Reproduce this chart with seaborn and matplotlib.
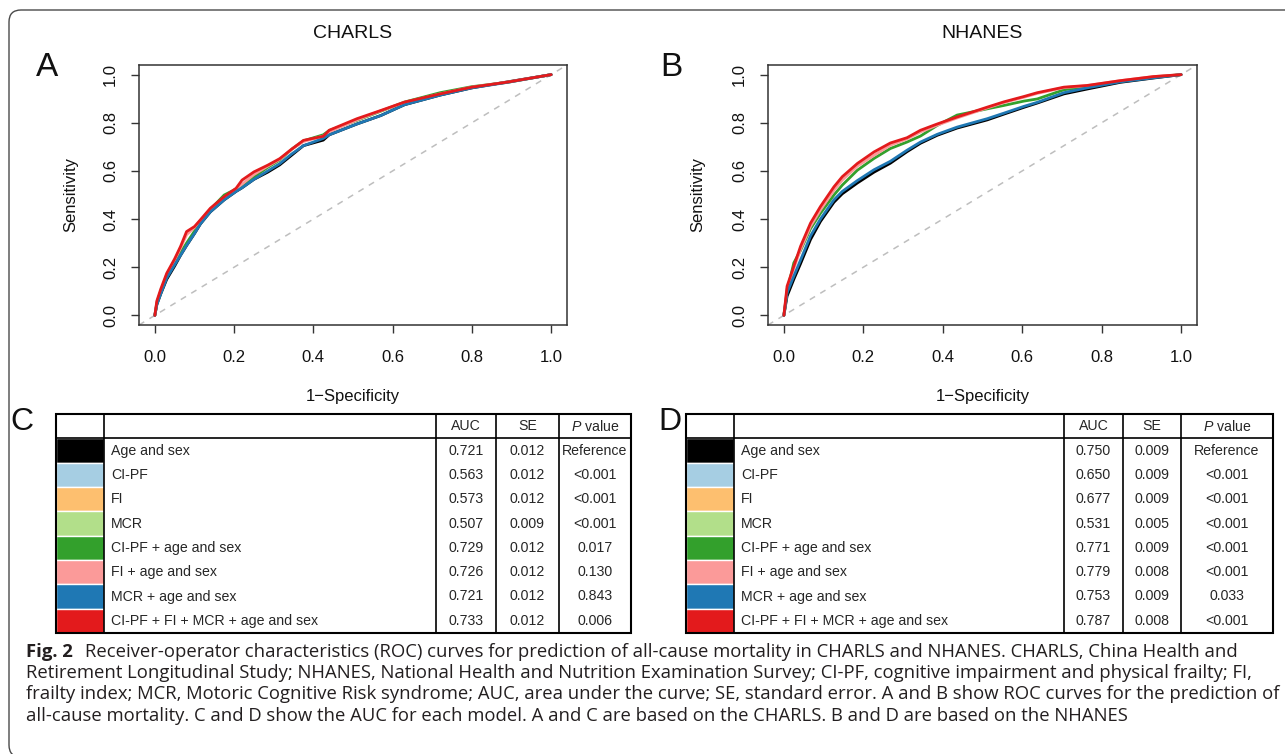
import numpy as np
import pandas as pd
import seaborn as sns
import matplotlib.pyplot as plt
from matplotlib.patches import FancyBboxPatch, Rectangle

# ---- table data ----
models = ['Age and sex', 'CI-PF', 'FI', 'MCR', 'CI-PF + age and sex',
          'FI + age and sex', 'MCR + age and sex', 'CI-PF + FI + MCR + age and sex']
colors = ['#000000', '#A6CEE3', '#FDBF6F', '#B2DF8A', '#33A02C',
          '#FB9A99', '#1F78B4', '#E31A1C']

charls_auc = ['0.721', '0.563', '0.573', '0.507', '0.729', '0.726', '0.721', '0.733']
charls_se = ['0.012', '0.012', '0.012', '0.009', '0.012', '0.012', '0.012', '0.012']
charls_p = ['Reference', '<0.001', '<0.001', '<0.001', '0.017', '0.130', '0.843', '0.006']

nhanes_auc = ['0.750', '0.650', '0.677', '0.531', '0.771', '0.779', '0.753', '0.787']
nhanes_se = ['0.009', '0.009', '0.009', '0.005', '0.009', '0.008', '0.009', '0.008']
nhanes_p = ['Reference', '<0.001', '<0.001', '<0.001', '<0.001', '<0.001', '0.033', '<0.001']

# ---- ROC curves (only these five are drawn) ----
curve_models = ['Age and sex', 'CI-PF + age and sex', 'FI + age and sex',
                'MCR + age and sex', 'CI-PF + FI + MCR + age and sex']

charls_fpr = [0, 0.005, 0.015, 0.03, 0.05, 0.065, 0.08, 0.10, 0.115, 0.14, 0.175, 0.205,
              0.22, 0.25, 0.285, 0.315, 0.345, 0.375, 0.425, 0.44, 0.51, 0.57, 0.63,
              0.72, 0.80, 0.89, 1.0]
charls_age = [0, 0.045, 0.09, 0.15, 0.205, 0.25, 0.29, 0.34, 0.38, 0.43, 0.48, 0.515,
              0.53, 0.565, 0.595, 0.625, 0.665, 0.705, 0.728, 0.75, 0.795, 0.83, 0.875,
              0.915, 0.945, 0.97, 1.0]
charls_cipf_age = [0, 0.05, 0.10, 0.165, 0.22, 0.26, 0.30, 0.35, 0.39, 0.44, 0.50, 0.525,
                   0.535, 0.575, 0.615, 0.645, 0.69, 0.725, 0.75, 0.768, 0.81, 0.848, 0.886,
                   0.925, 0.95, 0.968, 1.0]
charls_fi_age = [0, 0.055, 0.10, 0.17, 0.23, 0.28, 0.335, 0.365, 0.395, 0.44, 0.49, 0.525,
                 0.545, 0.585, 0.62, 0.648, 0.69, 0.722, 0.745, 0.762, 0.812, 0.85, 0.884,
                 0.92, 0.948, 0.969, 1.0]
charls_mcr_age = [0, 0.045, 0.09, 0.155, 0.21, 0.25, 0.29, 0.34, 0.38, 0.43, 0.48, 0.515,
                  0.53, 0.565, 0.60, 0.63, 0.67, 0.705, 0.735, 0.75, 0.795, 0.83, 0.875,
                  0.915, 0.945, 0.968, 1.0]
charls_all = [0, 0.06, 0.11, 0.175, 0.235, 0.287, 0.348, 0.369, 0.397, 0.445, 0.493, 0.528,
              0.562, 0.596, 0.624, 0.651, 0.69, 0.727, 0.744, 0.769, 0.817, 0.851, 0.886,
              0.92, 0.948, 0.969, 1.0]

nhanes_fpr = [0, 0.008, 0.025, 0.042, 0.067, 0.092, 0.126, 0.147, 0.185, 0.227, 0.268,
              0.31, 0.344, 0.386, 0.436, 0.512, 0.554, 0.604, 0.638, 0.705, 0.763, 0.847,
              0.931, 1.0]
nhanes_age = [0, 0.08, 0.15, 0.215, 0.315, 0.39, 0.47, 0.505, 0.55, 0.595, 0.632, 0.68,
              0.715, 0.748, 0.778, 0.812, 0.836, 0.864, 0.882, 0.92, 0.94, 0.968, 0.986, 1.0]
nhanes_cipf_age = [0, 0.10, 0.218, 0.27, 0.36, 0.424, 0.50, 0.541, 0.603, 0.652, 0.693,
                   0.72, 0.745, 0.789, 0.832, 0.858, 0.872, 0.89, 0.899, 0.937, 0.95,
                   0.972, 0.99, 1.0]
nhanes_fi_age = [0, 0.11, 0.195, 0.275, 0.37, 0.438, 0.52, 0.562, 0.62, 0.665, 0.707,
                 0.733, 0.762, 0.79, 0.82, 0.862, 0.884, 0.906, 0.922, 0.946, 0.954,
                 0.975, 0.992, 1.0]
nhanes_mcr_age = [0, 0.094, 0.163, 0.23, 0.33, 0.40, 0.48, 0.515, 0.56, 0.605, 0.64,
                  0.686, 0.72, 0.752, 0.782, 0.817, 0.84, 0.868, 0.885, 0.925, 0.945,
                  0.97, 0.987, 1.0]
nhanes_all = [0, 0.121, 0.204, 0.287, 0.383, 0.452, 0.534, 0.576, 0.631, 0.679, 0.716,
              0.738, 0.769, 0.795, 0.824, 0.865, 0.887, 0.909, 0.925, 0.948, 0.955,
              0.975, 0.992, 1.0]

caption_lines = [
    'Receiver-operator characteristics (ROC) curves for prediction of all-cause mortality in CHARLS and NHANES. CHARLS, China Health and',
    'Retirement Longitudinal Study; NHANES, National Health and Nutrition Examination Survey; CI-PF, cognitive impairment and physical frailty; FI,',
    'frailty index; MCR, Motoric Cognitive Risk syndrome; AUC, area under the curve; SE, standard error. A and B show ROC curves for the prediction of',
    'all-cause mortality. C and D show the AUC for each model. A and C are based on the CHARLS. B and D are based on the NHANES',
]

sns.set_theme(style='white')
plt.rcParams['font.family'] = ['Liberation Sans', 'DejaVu Sans']
plt.rcParams['mathtext.fontset'] = 'custom'
plt.rcParams['mathtext.it'] = 'Liberation Sans:italic'
plt.rcParams['mathtext.rm'] = 'Liberation Sans'

W, H = 1285, 754
fig = plt.figure(figsize=(W / 100, H / 100), dpi=100)
palette = dict(zip(models, colors))


def fx(x):
    return x / W


def fy(y):
    return 1 - y / H


def roc_frame(fpr, curves):
    parts = []
    for name, tpr in zip(curve_models, curves):
        parts.append(pd.DataFrame({'fpr': fpr, 'tpr': tpr, 'model': name}))
    return pd.concat(parts, ignore_index=True)


def roc_panel(left, right, df, title, letter, lx):
    ax = fig.add_axes([fx(left), fy(325), fx(right - left), (325 - 65) / H])
    ax.axline((0, 0), (1, 1), color='#BEBEBE', lw=1.1, ls=(0, (4, 4)))
    sns.lineplot(data=df, x='fpr', y='tpr', hue='model', hue_order=curve_models,
                 palette=palette, sort=False, estimator=None, legend=False, lw=2, ax=ax)
    ax.set_xlim(-0.04, 1.04)
    ax.set_ylim(-0.04, 1.04)
    ticks = [0, 0.2, 0.4, 0.6, 0.8, 1.0]
    ax.set_xticks(ticks)
    ax.set_yticks(ticks)
    ax.set_xticklabels(['%.1f' % t for t in ticks])
    ax.set_yticklabels(['%.1f' % t for t in ticks], rotation=90, va='center')
    ax.tick_params(direction='out', length=6, width=1, color='#333333',
                   labelsize=12, labelcolor='#111111', bottom=True, left=True)
    ax.tick_params(axis='x', pad=12)
    ax.tick_params(axis='y', pad=9)
    for s in ax.spines.values():
        s.set_color('#333333')
        s.set_linewidth(1.1)
    ax.set_xlabel('1\u2212Specificity', fontsize=12, color='#111111')
    ax.set_ylabel('Sensitivity', fontsize=12, color='#111111')
    ax.xaxis.set_label_coords(0.5, -(397 - 325) / 260)
    ax.xaxis.label.set_va('center')
    ax.yaxis.set_label_coords(-(left - lx) / (right - left), 0.5)
    ax.yaxis.label.set_va('center')
    ax.text(0.5, 1 + (65 - 33) / 260, title, transform=ax.transAxes,
            ha='center', va='center', fontsize=14, color='#111111')
    fig.text(fx(letter[1]), fy(67), letter[0], ha='center', va='center',
             fontsize=24, color='#111111')
    return ax


roc_panel(139, 567, roc_frame(charls_fpr, [charls_age, charls_cipf_age, charls_fi_age,
                                           charls_mcr_age, charls_all]),
          'CHARLS', ('A', 47), 71)
roc_panel(768, 1197, roc_frame(nhanes_fpr, [nhanes_age, nhanes_cipf_age, nhanes_fi_age,
                                            nhanes_mcr_age, nhanes_all]),
          'NHANES', ('B', 671), 698)


def table_panel(left, top, bottom, edges, auc, se, pv, letter, lx):
    width = edges[-1]
    ax = fig.add_axes([fx(left), fy(bottom), fx(width), (bottom - top) / H])
    ax.set_xlim(0, width)
    ax.set_ylim(9, 0)
    ax.axis('off')
    rows = np.arange(1, 9)
    ax.barh(rows, width=edges[1], left=0, height=1, align='edge', color=colors)
    lw = 1.2
    ax.add_patch(Rectangle((0, 0), width, 9, fill=False, ec='black', lw=1.5, clip_on=False))
    ax.hlines(1, 0, width, color='black', lw=lw)
    ax.vlines(edges[1:-1], 0, 9, color='black', lw=lw)
    ts = 10.2
    ax.text((edges[2] + edges[3]) / 2, 0.5, 'AUC', ha='center', va='center', fontsize=ts)
    ax.text((edges[3] + edges[4]) / 2, 0.5, 'SE', ha='center', va='center', fontsize=ts)
    ax.text((edges[4] + edges[5]) / 2, 0.5, r'$\mathit{P}$ value', ha='center',
            va='center', fontsize=ts)
    for i, r in enumerate(rows):
        y = r + 0.5
        ax.text(edges[1] + 7, y, models[i], ha='left', va='center', fontsize=ts)
        ax.text((edges[2] + edges[3]) / 2, y, auc[i], ha='center', va='center', fontsize=ts)
        ax.text((edges[3] + edges[4]) / 2, y, se[i], ha='center', va='center', fontsize=ts)
        ax.text((edges[4] + edges[5]) / 2, y, pv[i], ha='center', va='center', fontsize=ts)
    fig.text(fx(lx), fy(422), letter, ha='center', va='center', fontsize=23, color='#111111')


table_panel(56, 414, 633, [0, 48, 380, 440, 503, 575],
            charls_auc, charls_se, charls_p, 'C', 22)
table_panel(686, 414, 633, [0, 48, 378, 437, 495, 587],
            nhanes_auc, nhanes_se, nhanes_p, 'D', 670)

# rounded frame around the figure
fig.patches.append(FancyBboxPatch((9 / 100, -0.03), (W + 40) / 100, (H - 10) / 100 + 0.03,
                                  boxstyle='round,pad=0,rounding_size=0.12',
                                  transform=fig.dpi_scale_trans, fill=False,
                                  ec='#4a4a4a', lw=1.0))

# caption, font size fitted so the first line spans the same width
cap_font = ['Open Sans', 'Lato', 'DejaVu Sans']
cap_col = '#231F20'
fig.canvas.draw()
rend = fig.canvas.get_renderer()
size = 11.0
base = 657
t_bold = fig.text(fx(26), fy(base), 'Fig. 2', fontweight='bold', family=cap_font,
                  fontsize=size, va='baseline', color=cap_col)
t_one = fig.text(fx(90), fy(base), caption_lines[0], family=cap_font,
                 fontsize=size, va='baseline', color=cap_col)
wb = t_bold.get_window_extent(rend).width
w1 = t_one.get_window_extent(rend).width
size = size * (1238 - 26 - 12) / (wb + w1)
t_bold.set_fontsize(size)
t_one.set_fontsize(size)
wb = t_bold.get_window_extent(rend).width
t_one.set_x(fx(26 + wb + 12))
for k, line in enumerate(caption_lines[1:], start=1):
    fig.text(fx(26), fy(base + 21.2 * k), line, family=cap_font, fontsize=size,
             va='baseline', color=cap_col)

fig.savefig('out.png', dpi=100)
